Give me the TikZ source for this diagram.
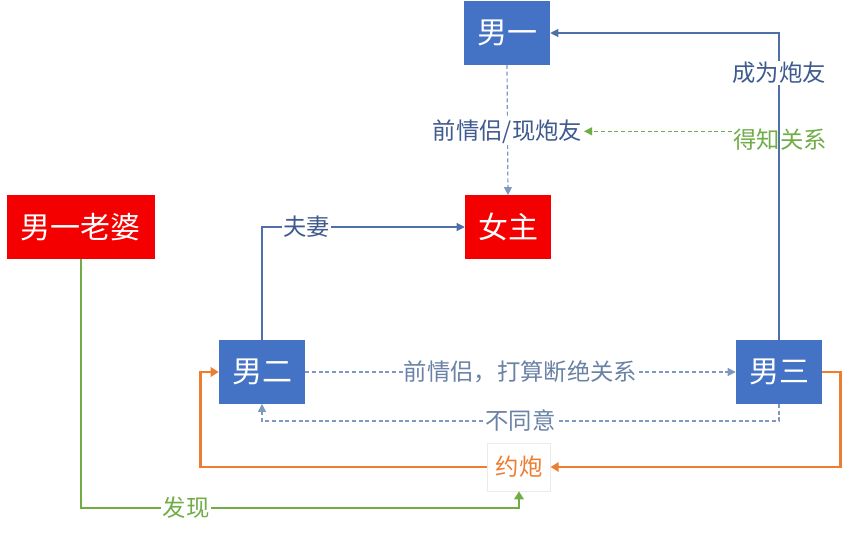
\documentclass[tikz,border=0pt]{standalone}
\usepackage{fontspec}
\setmainfont{Noto Sans CJK SC}
\usepackage{xcolor}
\usetikzlibrary{arrows.meta, positioning}

\definecolor{boxblue}{HTML}{4472C4}
\definecolor{boxred}{HTML}{F40000}
\definecolor{lineblue}{HTML}{4E6FA8}
\definecolor{dashblue}{HTML}{7F98C0}
\definecolor{txtblue}{HTML}{3F5A8E}
\definecolor{txtgray}{HTML}{6A82A6}
\definecolor{grn}{HTML}{70AD47}
\definecolor{org}{HTML}{ED7D31}

\begin{document}
\begin{tikzpicture}[x=0.75pt, y=-0.75pt,
        person/.style={fill=boxblue, text=white, inner sep=0pt,
                minimum width=64.5pt, minimum height=47.5pt,
                font=\fontsize{22.5}{24}\selectfont},
        redbox/.style={person, fill=boxred},
        eventbox/.style={draw=black!8, fill=white, text=org, inner sep=0pt,
                minimum width=47pt, minimum height=36pt,
                font=\fontsize{17.5}{19}\selectfont},
        lbl/.style={fill=white, inner sep=1pt, text=txtblue,
                font=\fontsize{17.5}{19}\selectfont},
        thinline/.style={draw=lineblue, line width=0.8pt,
                -{Triangle[length=6pt,width=6pt]}},
        dashline/.style={draw=dashblue, line width=0.9pt, dash pattern=on 3pt off 2pt,
                -{Triangle[length=6pt,width=6pt]}},
        thickline/.style={line width=1.9pt, -{Triangle[length=6pt,width=7pt]}}
    ]
        \useasboundingbox (0,0) rectangle (842,532);

        % people
        \node[person] (nan1) at (507,33) {男一};
        \node[redbox] (nvzhu) at (508,227) {女主};
        \node[redbox, minimum width=111pt] (laopo) at (81,227) {男一老婆};
        \node[person] (nan2) at (262,372) {男二};
        \node[person] (nan3) at (779,372) {男三};
        \node[eventbox] (yuepao) at (519,467) {约炮};

        % blue relations
        \draw[dashline] (nan1.south) -- node[lbl, pos=0.51] (qian) {前情侣/现炮友} (nvzhu.north);
        \draw[thinline] (nan2.north) |- node[lbl, pos=0.61] (fuqi) {夫妻} (nvzhu.west);
        \draw[thinline] (nan3.north) |- node[lbl, pos=0.435] (paoyou) {成为炮友} (nan1.east);
        \draw[dashline] (nan2.east) -- node[lbl, text=txtgray] (duanjue) {前情侣，打算断绝关系} (nan3.west);
        \draw[dashline] (nan3.south) -- ++(0,17) -| node[lbl, text=txtgray, pos=0.25] (butongyi) {不同意} (nan2.south);

        % green
        \node[text=grn, inner sep=1pt, font=\fontsize{17.5}{19}\selectfont] (dezhi) at (780,140) {得知关系};
        \draw[dashline, draw=grn] (dezhi.west |- qian.east) -- (qian.east);
        \draw[thickline, draw=grn] (laopo.south) -- ++(0,249) -| node[lbl, text=grn, pos=0.12] (faxian) {发现} (yuepao.south);

        % orange
        \draw[thickline, draw=org] (nan3.east) -- ++(18,0) |- (yuepao.east);
        \draw[thickline, draw=org] (yuepao.west) -- ++(-287,0) |- (nan2.west);
    \end{tikzpicture}
\end{document}
